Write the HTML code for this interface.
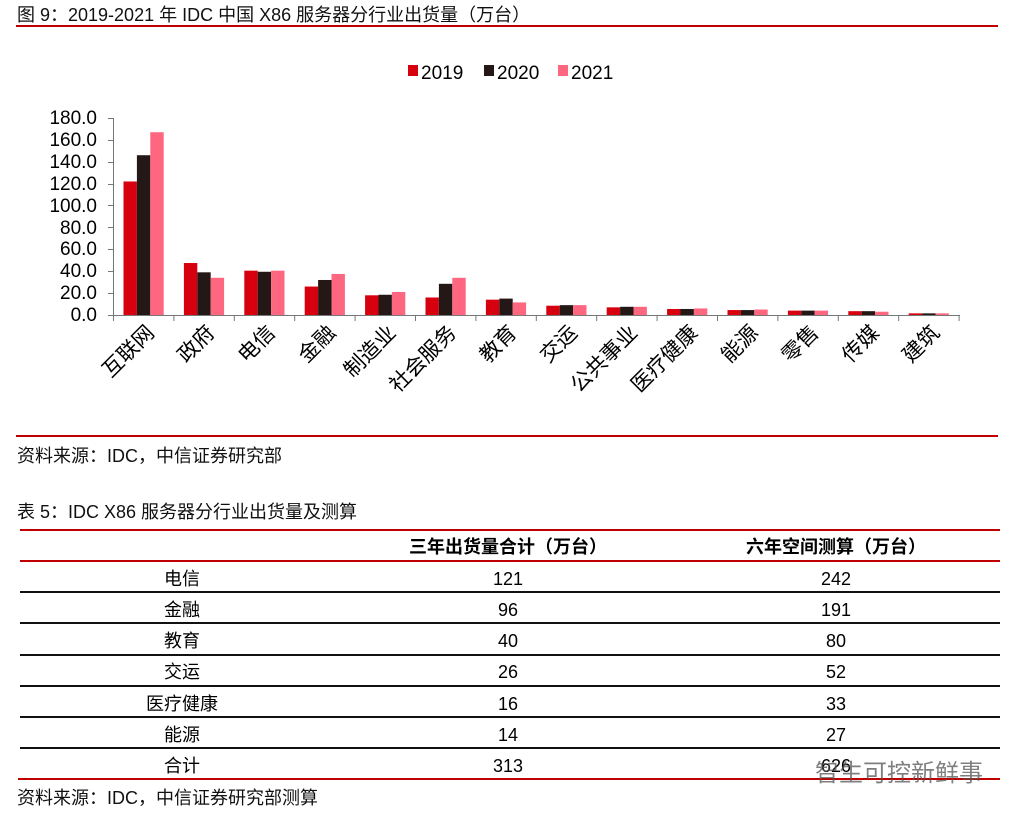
<!DOCTYPE html>
<html><head><meta charset="utf-8"><style>
body{margin:0;background:#fff;width:1024px;height:818px;overflow:hidden;font-family:"Liberation Sans","Noto Sans CJK SC",sans-serif;}
</style></head><body>
<svg width="1024" height="818" xmlns="http://www.w3.org/2000/svg" style="position:absolute;left:0;top:0;font-family:'Liberation Sans','Noto Sans CJK SC',sans-serif">
<text x="17" y="21" font-size="18" fill="#111">图 9：2019-2021 年 IDC 中国 X86 服务器分行业出货量（万台）</text>
<rect x="16" y="25" width="982" height="2" fill="#c00000"/>
<rect x="408" y="65" width="10" height="11" fill="#d7000f"/><text x="421" y="79" font-size="19">2019</text>
<rect x="484" y="65" width="10" height="11" fill="#231815"/><text x="497" y="79" font-size="19">2020</text>
<rect x="558" y="65" width="10" height="11" fill="#ff6680"/><text x="571" y="79" font-size="19">2021</text>
<g font-size="19" text-anchor="end" fill="#000">
<text x="97" y="124">180.0</text><text x="97" y="146">160.0</text><text x="97" y="168">140.0</text><text x="97" y="190">120.0</text><text x="97" y="212">100.0</text><text x="97" y="234">80.0</text><text x="97" y="255">60.0</text><text x="97" y="277">40.0</text><text x="97" y="299">20.0</text><text x="97" y="321">0.0</text>
</g>
<g stroke="#777" stroke-width="1">
<line x1="113.5" y1="118" x2="113.5" y2="321"/>
<line x1="108" y1="118.5" x2="113" y2="118.5"/><line x1="108" y1="140.5" x2="113" y2="140.5"/><line x1="108" y1="162.5" x2="113" y2="162.5"/><line x1="108" y1="184.5" x2="113" y2="184.5"/><line x1="108" y1="205.5" x2="113" y2="205.5"/><line x1="108" y1="227.5" x2="113" y2="227.5"/><line x1="108" y1="249.5" x2="113" y2="249.5"/><line x1="108" y1="271.5" x2="113" y2="271.5"/><line x1="108" y1="293.5" x2="113" y2="293.5"/>
<line x1="108" y1="315.5" x2="960" y2="315.5"/>
</g>
<g id="bars"></g>
<g id="labs" font-size="21" text-anchor="end"></g>
<g font-size="18" fill="#111">
<text x="17" y="462">资料来源：IDC，中信证券研究部</text>
<text x="17" y="518">表 5：IDC X86 服务器分行业出货量及测算</text>
<text x="17" y="804">资料来源：IDC，中信证券研究部测算</text>
</g>
<rect x="16" y="435" width="982" height="2" fill="#c00000"/>
<rect x="20" y="529" width="980" height="2" fill="#c00000"/>
<rect x="20" y="560" width="980" height="2" fill="#c00000"/>
<g fill="#111"><rect x="20" y="591" width="980" height="2"/><rect x="20" y="622" width="980" height="2"/><rect x="20" y="654" width="980" height="2"/><rect x="20" y="685" width="980" height="2"/><rect x="20" y="716" width="980" height="2"/><rect x="20" y="747" width="980" height="2"/></g>
<rect x="18" y="778" width="982" height="2" fill="#c00000"/>
<g font-size="18" text-anchor="middle" fill="#000">
<text x="508" y="553" font-weight="bold">三年出货量合计（万台）</text><text x="836" y="553" font-weight="bold">六年空间测算（万台）</text>
<text x="182" y="585">电信</text><text x="508" y="585">121</text><text x="836" y="585">242</text>
<text x="182" y="616">金融</text><text x="508" y="616">96</text><text x="836" y="616">191</text>
<text x="182" y="647">教育</text><text x="508" y="647">40</text><text x="836" y="647">80</text>
<text x="182" y="678">交运</text><text x="508" y="678">26</text><text x="836" y="678">52</text>
<text x="182" y="710">医疗健康</text><text x="508" y="710">16</text><text x="836" y="710">33</text>
<text x="182" y="741">能源</text><text x="508" y="741">14</text><text x="836" y="741">27</text>
<text x="182" y="772">合计</text><text x="508" y="772">313</text><text x="836" y="772">626</text>
</g>
<text x="815" y="781" font-size="24" fill="#555" opacity="0.75">智生可控新鲜事</text>
</svg>
<script>
var d=[["互联网",122,146,167],["政府",47.5,39,34],["电信",40.5,39.5,40.5],["金融",26,32,37.5],["制造业",18,18.5,21],["社会服务",16,28.5,34],["教育",14,15,11.5],["交运",8.5,9,9],["公共事业",7,7.5,7.5],["医疗健康",5.5,5.5,6],["能源",4.5,4.5,5],["零售",4,4,4],["传媒",3.5,3.5,3],["建筑",1.5,1.5,1.5]];
var c=["#d7000f","#231815","#ff6680"],ns="http://www.w3.org/2000/svg",b=document.getElementById("bars"),l=document.getElementById("labs"),ax=document.querySelector("svg g[stroke]");
d.forEach(function(r,i){var x0=113.5+i*60.4;
for(var k=0;k<3;k++){var h=r[k+1]*197/180,e=document.createElementNS(ns,"rect");e.setAttribute("x",x0+10+k*13.4);e.setAttribute("y",315-h);e.setAttribute("width",13.4);e.setAttribute("height",h);e.setAttribute("fill",c[k]);b.appendChild(e);}
var t=document.createElementNS(ns,"line");var tx=x0+60.4;t.setAttribute("x1",tx);t.setAttribute("x2",tx);t.setAttribute("y1",315);t.setAttribute("y2",321);ax.appendChild(t);
var s=document.createElementNS(ns,"text"),cx=x0+30+12,cy=334;s.setAttribute("x",cx);s.setAttribute("y",cy);s.setAttribute("transform","rotate(-45 "+cx+" "+cy+")");s.textContent=r[0];l.appendChild(s);});
</script>
</body></html>
